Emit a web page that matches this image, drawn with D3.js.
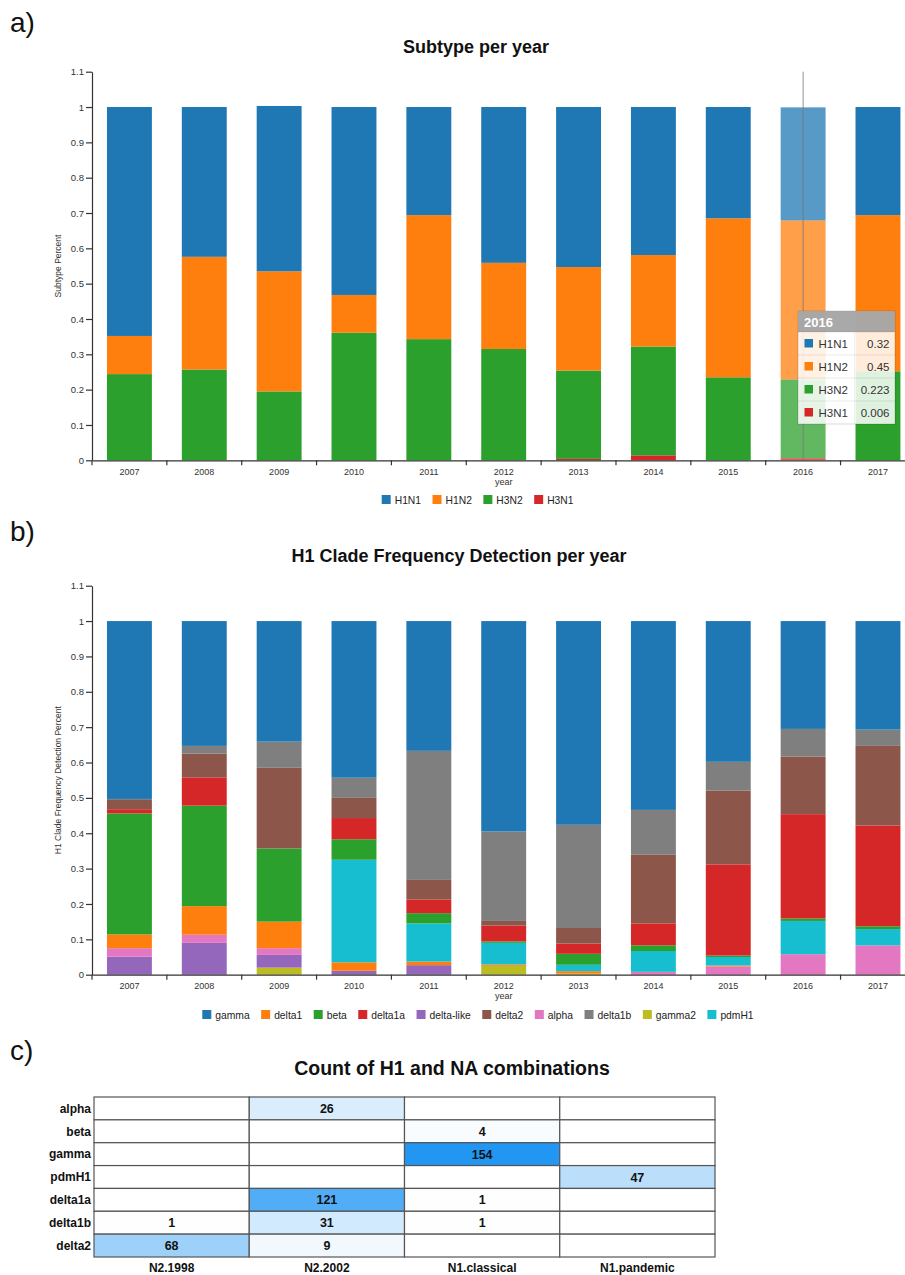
<!DOCTYPE html>
<html>
<head>
<meta charset="utf-8">
<script src="https://cdn.jsdelivr.net/npm/d3@7/dist/d3.min.js"></script>
<style>
  html, body { margin: 0; padding: 0; background: #fff; }
  svg { display: block; font-family: "Liberation Sans", Arial, sans-serif; }
</style>
</head>
<body>
<svg id="chart" width="905" height="1275"></svg>
<script>
// ---------------- DATA ----------------
const years = ["2007","2008","2009","2010","2011","2012","2013","2014","2015","2016","2017"];

// Panel a: subtype fraction per year
const subtypeLegend = ["H1N1","H1N2","H3N2","H3N1"];
const subtypeStackOrder = ["H3N1","H3N2","H1N2","H1N1"];
const H1N1 = [0.648,0.424,0.468,0.532,0.306,0.441,0.453,0.419,0.315,0.32,0.306];
const H1N2 = [0.108,0.319,0.340,0.107,0.351,0.244,0.293,0.259,0.450,0.45,0.442];
const H3N2 = [0.244,0.257,0.195,0.361,0.343,0.315,0.250,0.308,0.235,0.223,0.252];
const H3N1 = [0,0,0,0,0,0,0.004,0.014,0,0.006,0];
const hoverYear = "2016";

// Panel b: H1 clade frequency per year
const cladeLegend = ["gamma","delta1","beta","delta1a","delta-like","delta2","alpha","delta1b","gamma2","pdmH1"];
const cladeStackOrder = ["gamma2","delta-like","alpha","delta1","pdmH1","beta","delta1a","delta2","delta1b","gamma"];
const gamma     = [0.503,0.353,0.341,0.443,0.367,0.595,0.576,0.534,0.398,0.305,0.307];
const delta1    = [0.039,0.081,0.075,0.024,0.010,0.004,0.007,0,0.003,0,0];
const beta      = [0.342,0.284,0.207,0.058,0.029,0.004,0.031,0.016,0.004,0.007,0.008];
const delta1a   = [0.012,0.080,0,0.060,0.039,0.045,0.029,0.062,0.258,0.295,0.285];
const deltaLike = [0.051,0.090,0.036,0.011,0.027,0,0,0,0,0,0];
const delta2    = [0.026,0.067,0.228,0.057,0.055,0.013,0.044,0.194,0.209,0.163,0.225];
const alpha     = [0.024,0.023,0.019,0,0,0,0,0.008,0.023,0.058,0.083];
const delta1b   = [0.003,0.022,0.074,0.057,0.365,0.253,0.292,0.127,0.081,0.078,0.046];
const gamma2    = [0,0,0.020,0,0,0.025,0.003,0,0,0,0];
const pdmH1     = [0,0,0,0.290,0.108,0.061,0.018,0.059,0.024,0.094,0.046];

// Panel c: counts of H1 x NA combinations
const h1Clades = ["alpha","beta","gamma","pdmH1","delta1a","delta1b","delta2"];
const naClades = ["N2.1998","N2.2002","N1.classical","N1.pandemic"];
const countAlpha   = [null, 26, null, null];
const countBeta    = [null, null, 4, null];
const countGamma   = [null, null, 154, null];
const countPdmH1   = [null, null, null, 47];
const countDelta1a = [null, 121, 1, null];
const countDelta1b = [1, 31, 1, null];
const countDelta2  = [68, 9, null, null];

const yTickValues = [0,0.1,0.2,0.3,0.4,0.5,0.6,0.7,0.8,0.9,1,1.1];

// ---------------- BUILD TABLES ----------------
const subtypeSeries = {H1N1, H1N2, H3N2, H3N1};
const subtypeRows = years.map((y, i) => {
  const r = {year: y};
  subtypeLegend.forEach(k => r[k] = subtypeSeries[k][i]);
  return r;
});
const cladeSeries = {gamma, delta1, beta, delta1a, "delta-like": deltaLike, delta2, alpha, delta1b, gamma2, pdmH1};
const cladeRows = years.map((y, i) => {
  const r = {year: y};
  cladeLegend.forEach(k => r[k] = cladeSeries[k][i]);
  return r;
});
const countRows = [countAlpha, countBeta, countGamma, countPdmH1, countDelta1a, countDelta1b, countDelta2];

const cat10 = d3.schemeCategory10;
const subtypeColor = d3.scaleOrdinal().domain(subtypeLegend).range(cat10);
const cladeColor = d3.scaleOrdinal().domain(cladeLegend).range(cat10);

const svg = d3.select("#chart");
const axisColor = "#333";

// panel letters
[["a)", 32], ["b)", 541], ["c)", 1060]].forEach(([t, yy]) => {
  svg.append("text").attr("x", 10).attr("y", yy)
    .attr("font-size", 28).attr("fill", "#111").text(t);
});

function stackedChart(opts) {
  const {rows, keys, color, legendKeys, top, bottom, title, titleX, titleY, yLabel, legendY, legendX, hover} = opts;
  const g = svg.append("g");
  const x = d3.scaleBand().domain(years).range([92, 915.4]).paddingInner(0.4).paddingOuter(0.2);
  const y = d3.scaleLinear().domain([0, 1.1]).range([bottom, top]);

  // title
  g.append("text").attr("x", titleX).attr("y", titleY).attr("text-anchor", "middle")
    .attr("font-size", 18).attr("font-weight", "bold").attr("fill", "#111").text(title);

  const series = d3.stack().keys(keys)(rows);
  g.append("g").selectAll("g").data(series).join("g")
    .attr("fill", d => color(d.key))
    .selectAll("rect").data(d => d).join("rect")
    .attr("x", d => x(d.data.year))
    .attr("width", x.bandwidth())
    .attr("y", d => y(d[1]))
    .attr("height", d => Math.max(0, y(d[0]) - y(d[1])))
    .attr("fill-opacity", d => (hover && d.data.year === hover) ? 0.75 : 1);

  // y axis
  const ya = g.append("g").attr("transform", "translate(92,0)")
    .call(d3.axisLeft(y).tickValues(yTickValues).tickFormat(d => String(+d.toFixed(1))).tickSize(6).tickSizeOuter(0).tickPadding(2));
  ya.selectAll("text").attr("font-size", 9.5).attr("fill", axisColor).attr("font-family", "Liberation Sans, Arial, sans-serif");
  ya.selectAll("line,path").attr("stroke", axisColor).attr("stroke-width", 1.2);

  // x axis
  const xa = g.append("g").attr("transform", `translate(0,${bottom})`)
    .call(d3.axisBottom(x).tickSize(5).tickSizeOuter(0));
  xa.selectAll(".tick line").attr("x1", -x.step() / 2).attr("x2", -x.step() / 2);
  xa.selectAll("text").attr("y", 14.8).attr("dy", 0).attr("font-size", 9).attr("fill", axisColor)
    .attr("font-family", "Liberation Sans, Arial, sans-serif");
  xa.selectAll("line,path").attr("stroke", axisColor).attr("stroke-width", 1.2);

  // axis labels
  g.append("text").attr("x", (92 + 915.4) / 2).attr("y", bottom + 24.5).attr("text-anchor", "middle")
    .attr("font-size", 9).attr("fill", axisColor).text("year");
  g.append("text").attr("transform", `translate(61,${(top + bottom) / 2}) rotate(-90)`)
    .attr("text-anchor", "middle").attr("font-size", 8.5).attr("fill", axisColor).text(yLabel);

  // legend
  const lg = g.append("g");
  const items = lg.selectAll("g").data(legendKeys).join("g");
  items.append("rect").attr("width", 9).attr("height", 9).attr("y", -4.5).attr("fill", d => color(d));
  items.append("text").attr("x", 13).attr("y", 4).attr("font-size", 10.3).attr("fill", "#222").text(d => d);
  let cx = 0;
  const pos = [];
  items.each(function() {
    pos.push(cx);
    const w = d3.select(this).select("text").node().getComputedTextLength();
    cx += 13 + w + 11.5;
  });
  items.attr("transform", (d, i) => `translate(${pos[i]},0)`);
  lg.attr("transform", `translate(${legendX},${legendY})`);

  return {x, y, g};
}

// ---------------- PANEL A ----------------
const A = stackedChart({
  rows: subtypeRows, keys: subtypeStackOrder, color: subtypeColor, legendKeys: subtypeLegend,
  top: 71.7, bottom: 460.3, title: "Subtype per year", titleX: 476, titleY: 53, yLabel: "Subtype Percent",
  legendY: 499.5, legendX: 381.7, hover: hoverYear
});

// hover guideline + tooltip
{
  const hx = A.x(hoverYear) + A.x.bandwidth() / 2;
  A.g.append("line").attr("x1", hx).attr("x2", hx).attr("y1", 71.7).attr("y2", 460.3)
    .attr("stroke", "#777").attr("stroke-width", 1).attr("stroke-opacity", 0.8);
  const hi = years.indexOf(hoverYear);
  const tt = A.g.append("g").attr("transform", "translate(798,311)");
  const tw = 97, hh = 21, rh = 23;
  tt.append("rect").attr("width", tw).attr("height", hh + rh * 4)
    .attr("fill", "#fff").attr("fill-opacity", 0.85)
    .attr("stroke", "#000").attr("stroke-opacity", 0.15);
  tt.append("rect").attr("width", tw).attr("height", hh).attr("fill", "#9a9a9a").attr("fill-opacity", 0.85);
  tt.append("text").attr("x", 6).attr("y", 15.5).attr("font-size", 13).attr("font-weight", "bold")
    .attr("fill", "#fff").text(hoverYear);
  subtypeLegend.forEach((k, i) => {
    const ry = hh + i * rh;
    tt.append("line").attr("x1", 0).attr("x2", tw).attr("y1", ry).attr("y2", ry)
      .attr("stroke", "#000").attr("stroke-opacity", 0.08);
    tt.append("rect").attr("x", 6.5).attr("y", ry + 7).attr("width", 8.5).attr("height", 8.5).attr("fill", subtypeColor(k));
    tt.append("text").attr("x", 20.5).attr("y", ry + 15.5).attr("font-size", 11.5).attr("fill", "#333").text(k);
    tt.append("text").attr("x", tw - 5.5).attr("y", ry + 15.5).attr("text-anchor", "end")
      .attr("font-size", 11.5).attr("fill", "#333").text(subtypeSeries[k][hi]);
  });
  tt.append("line").attr("x1", 56.5).attr("x2", 56.5).attr("y1", hh).attr("y2", hh + rh * 4)
    .attr("stroke", "#000").attr("stroke-opacity", 0.06);
}

// ---------------- PANEL B ----------------
stackedChart({
  rows: cladeRows, keys: cladeStackOrder, color: cladeColor, legendKeys: cladeLegend,
  top: 585.7, bottom: 974.7, title: "H1 Clade Frequency Detection per year", titleX: 459, titleY: 562,
  yLabel: "H1 Clade Frequency Detection Percent", legendY: 1014.5, legendX: 202.3, hover: null
});

// ---------------- PANEL C ----------------
{
  const g = svg.append("g");
  const cx = d3.scaleBand().domain(naClades).range([94, 715]);
  const cy = d3.scaleBand().domain(h1Clades).range([1097, 1257]);
  const maxCount = d3.max(countRows.flat().filter(v => v != null));
  const heat = d3.scaleLinear().domain([0, maxCount]).range(["#ffffff", "#2196f3"]);

  g.append("text").attr("x", 452).attr("y", 1075).attr("text-anchor", "middle")
    .attr("font-size", 19.5).attr("font-weight", "bold").attr("fill", "#111")
    .text("Count of H1 and NA combinations");

  const cells = [];
  h1Clades.forEach((r, i) => naClades.forEach((c, j) => cells.push({r, c, v: countRows[i][j]})));

  g.selectAll("rect.cell").data(cells).join("rect").attr("class", "cell")
    .attr("x", d => cx(d.c)).attr("y", d => cy(d.r))
    .attr("width", cx.bandwidth()).attr("height", cy.bandwidth())
    .attr("fill", d => d.v == null ? "#ffffff" : heat(d.v))
    .attr("stroke", "#555").attr("stroke-width", 1.2);

  g.selectAll("text.val").data(cells.filter(d => d.v != null)).join("text").attr("class", "val")
    .attr("x", d => cx(d.c) + cx.bandwidth() / 2)
    .attr("y", d => cy(d.r) + cy.bandwidth() / 2 + 4.5)
    .attr("text-anchor", "middle").attr("font-size", 12.5).attr("font-weight", "bold").attr("fill", "#111")
    .text(d => d.v);

  g.selectAll("text.row").data(h1Clades).join("text").attr("class", "row")
    .attr("x", 91).attr("y", d => cy(d) + cy.bandwidth() / 2 + 4.3)
    .attr("text-anchor", "end").attr("font-size", 12).attr("font-weight", "bold").attr("fill", "#111")
    .text(d => d);

  g.selectAll("text.col").data(naClades).join("text").attr("class", "col")
    .attr("x", d => cx(d) + cx.bandwidth() / 2).attr("y", 1271.5)
    .attr("text-anchor", "middle").attr("font-size", 12).attr("font-weight", "bold").attr("fill", "#111")
    .text(d => d);
}
</script>
</body>
</html>
